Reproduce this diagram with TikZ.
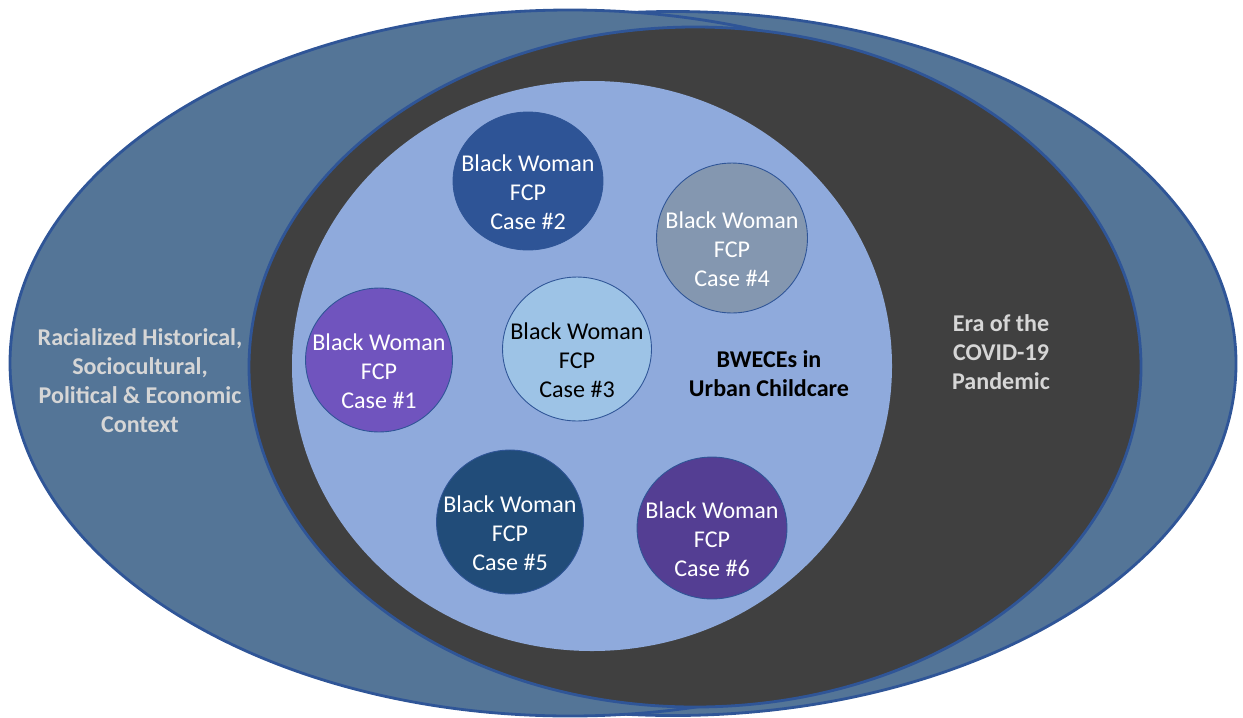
\documentclass[tikz,border=0pt]{standalone}
\usepackage{fontspec}
\setmainfont{Carlito}
\usetikzlibrary{positioning,shapes.geometric}

\definecolor{slate}{RGB}{84,117,151}
\definecolor{rimblue}{RGB}{47,85,151}
\definecolor{darkfill}{RGB}{64,64,64}
\definecolor{lightfill}{RGB}{143,170,220}
\definecolor{paletext}{RGB}{214,214,214}
\definecolor{caseone}{RGB}{112,84,190}
\definecolor{casetwo}{RGB}{46,84,150}
\definecolor{casethree}{RGB}{157,195,230}
\definecolor{casefour}{RGB}{132,151,176}
\definecolor{casefive}{RGB}{33,76,121}
\definecolor{casesix}{RGB}{84,62,147}

\begin{document}
\begin{tikzpicture}[x=0.02cm,y=-0.02cm,
    ring/.style={fill=slate, draw=rimblue, line width=1.6pt},
    casecircle/.style={ellipse, draw=rimblue, line width=0.5pt, inner sep=0pt},
    casetext/.style={align=center, font=\fontsize{13.7}{16.5}\selectfont},
    ctxlabel/.style={align=center, font=\bfseries\fontsize{13.7}{16.5}\selectfont}]
    \useasboundingbox (0,0) rectangle (1243,717);

    % Context ellipses
    \draw[ring] (673,363.5) ellipse [x radius=563, y radius=352];
    \draw[ring] (570,363) ellipse [x radius=560, y radius=353];
    \draw[ring, fill=darkfill] (695,367) ellipse [x radius=446, y radius=340];

    % Urban childcare
    \fill[lightfill] (592,366) ellipse [x radius=300, y radius=285];

    % Cases
    \foreach \n/\cx/\cy/\rx/\ry/\col/\txt in {1/379/360/73.5/72/caseone/white,
        2/528/181/75/69/casetwo/white, 3/577/349/74.5/72/casethree/black,
        4/732/238/75.5/75/casefour/white, 5/510/522/73.5/72/casefive/white,
        6/712/528/75/71/casesix/white} {
        \node[casecircle, fill=\col, minimum width=\rx*0.04cm, minimum height=\ry*0.04cm]
            (case\n) at (\cx,\cy) {};
        \node[casetext, text=\txt] (label\n) at (\cx,\cy+11) {Black Woman\\FCP\\Case \#\n};
    }

    % Labels
    \node[ctxlabel, text=paletext] (context) at (140,381)
        {Racialized Historical,\\Sociocultural,\\Political \& Economic\\Context};
    \node[ctxlabel, text=black] (bwece) at (769,374) {BWECEs in\\Urban Childcare};
    \node[ctxlabel, text=paletext] (covid) at (1001,352) {Era of the\\COVID-19\\Pandemic};
\end{tikzpicture}
\end{document}
